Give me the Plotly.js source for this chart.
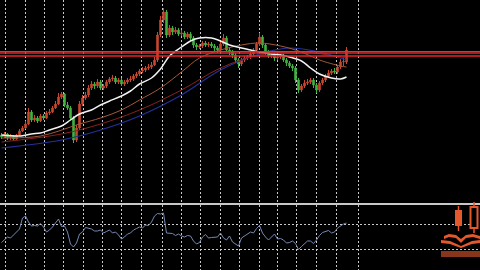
<!DOCTYPE html>
<html>
<head>
<meta charset="utf-8">
<script src="https://cdn.plot.ly/plotly-3.0.1.min.js"></script>
<style>html,body{margin:0;padding:0;background:#000;}#chart{width:480px;height:270px;}</style>
</head>
<body>
<div id="chart"></div>
<script>
// ---- price candles (one per bar) ----
const candleOpen = [65,63,66,62,64,61,65,69,72,76, 88,80,82,79,84,82,87,88,92,96, 103,106,95,92,82,60,72,96,102,105, 112,116,114,118,112,114,118,121,122,118, 120,116,118,120,121,124,126,129,130,132, 133,135,140,165,180,188,165,172,168,170, 166,167,163,166,162,155,153,154,157,155, 156,154,152,150,156,162,150,148,145,140, 136,140,142,143,146,150,156,163,155,148, 144,145,142,143,144,140,137,134,132,120, 110,114,117,118,120,115,110,117,120,124, 127,129,128,133,138,138];
const candleHigh = [67,68,67,66,65,66,71,74,79,92, 90,85,84,86,86,89,91,94,99,107, 108,107,98,94,84,75,99,105,108,115, 119,118,121,120,116,120,123,125,124,122, 122,120,122,124,126,128,131,133,134,136, 138,143,168,184,192,190,175,174,173,172, 170,169,168,168,164,157,156,159,159,158, 158,156,154,158,166,164,152,150,147,142, 142,144,145,148,152,158,167,165,157,150, 147,147,145,146,146,142,139,136,134,122, 116,120,121,122,122,117,119,122,126,130, 131,132,135,141,142,153];
const candleLow = [61,62,60,60,59,60,64,68,71,75, 78,78,77,78,80,81,85,87,91,95, 101,93,90,80,57,58,70,94,100,103, 110,111,112,110,110,112,116,119,116,116, 114,114,116,118,119,122,124,127,128,130, 131,134,138,163,177,162,163,165,166,164, 164,161,161,159,152,150,151,152,153,153, 152,149,147,148,154,148,145,142,137,132, 134,138,140,141,144,148,154,152,145,142, 142,139,140,141,138,134,132,129,117,107, 108,112,115,116,112,107,108,115,118,122, 125,126,126,131,134,136];
const candleClose = [63,66,62,64,61,65,69,72,76,88, 80,82,79,84,82,87,88,92,96,103, 106,95,92,82,60,72,96,102,105,112, 116,114,118,112,114,118,121,122,118,120, 116,118,120,121,124,126,129,130,132,133, 135,140,165,180,188,165,172,168,170,166, 167,163,166,162,155,153,154,157,155,156, 154,152,150,156,162,150,148,145,140,136, 140,142,143,146,150,156,163,155,148,144, 145,142,143,144,140,137,134,132,120,110, 114,117,118,120,115,110,117,120,124,127, 129,128,133,138,138.5,150];

// ---- moving averages (bar index, value) ----
const maWhiteX = [0,6.5,10,13,16,20,23,26,30,33,36,40,43,46,50,53,56,60,63,66,70,73,76,80,83,86,90,93,96,100,103,106,110,113,115];
const maWhiteY = [65,64,66,67,70,74,80,86,90,95,99,104,109,116,122,131,144,153,159,162,162,159,155,152,150,148,146,145,143,139,132,126,122,121,123];
const maBrownX = [0,13,26,33,40,46,53,60,66,73,80,86,93,100,106,113,115];
const maBrownY = [62,64,76,82,90,100,112,128,142,150,155,157,154,148,140,134,133];
const maRedX = [0,20,33,46,60,73,86,100,115];
const maRedY = [58,66,76,90,110,132,145,148,142];
const maBlueX = [0,20,33,46,60,73,86,96,106,115];
const maBlueY = [52,60,70,84,105,130,146,152,148,140];

// ---- horizontal levels ----
const levelGray = 148.5;
const levelsRed = [147, 144];

// ---- oscillator (RSI-like) ----
const oscValues = [40.4,44.4,49.2,47.6,52.4,55.6,62,79.6,82.8,73.2, 66.8,67.6,66.8,70.8,65.2,57.2,60.4,65.2,72.4,78, 66,66.8,57.2,38,33.2,39.6,54,57.2,64.4,63.6, 62,58.8,58.8,60.4,55.6,58,60.4,55.6,57.2,52.4, 46,49.2,54,55.6,60.4,62.8,65.2,63.6,68.4,67.6, 73.2,82.8,86.8,86,87.6,55.6,55.6,54.8,51.6,54, 50.8,49.2,51.6,50.8,42.8,38,40.4,49.2,53.2,47.6, 48.4,49.2,49.2,55.6,47.6,44.4,50.8,41.2,38,34.8, 47.6,50.8,54,57.2,55.6,62.8,67.6,55.6,49.2,44.4, 49.2,54,46,46.8,44.4,39.6,40.4,42.8,38.8,29.2, 34,38,42.8,42.8,38.8,44.4,51.6,56.4,58,59.6, 55.6,57.2,63.6,66.8,70,71.6];
const oscLevels = [30, 70];

// vertical grid (pixel columns of the reference)
const gridPx = [5,25,44,63,83,102,121,141,162,181,200,220,239,259,277,296,316,336,358];

const W = 480, H = 270;
const barIdx = candleClose.map((_, i) => i);
const gridIdx = gridPx.map(p => p / 3 - 0.5);
const px = x => x / W, py = y => 1 - y / H;

const candle = {
  type: 'candlestick', x: barIdx, open: candleOpen, high: candleHigh, low: candleLow, close: candleClose,
  xaxis: 'x', yaxis: 'y',
  increasing: {line: {color: '#c8482f', width: 1}, fillcolor: '#c8482f'},
  decreasing: {line: {color: '#41b341', width: 1}, fillcolor: '#41b341'},
  whiskerwidth: 0, hoverinfo: 'skip'
};
function ma(xs, ys, color, w) {
  return {type: 'scatter', mode: 'lines', x: xs, y: ys, xaxis: 'x', yaxis: 'y',
    line: {color: color, width: w, shape: 'spline', smoothing: 1}, hoverinfo: 'skip'};
}
const osc = {type: 'scatter', mode: 'lines', x: barIdx, y: oscValues, xaxis: 'x2', yaxis: 'y2',
  line: {color: '#7488b4', width: 1}, hoverinfo: 'skip'};

const axX = {range: [-0.5, 159.5], showticklabels: false, zeroline: false, showline: false,
  tickmode: 'array', tickvals: gridIdx, ticks: '', showgrid: true, gridcolor: '#c8c8c8',
  griddash: '2px,2px', gridwidth: 1, rangeslider: {visible: false}, fixedrange: true};

const shapes = [];
shapes.push({type: 'line', xref: 'paper', yref: 'y', x0: 0, x1: 1, y0: levelGray, y1: levelGray, line: {color: '#6b6b50', width: 1}});
levelsRed.forEach(v => shapes.push({type: 'line', xref: 'paper', yref: 'y', x0: 0, x1: 1, y0: v, y1: v, line: {color: '#e8242a', width: 1.6}}));
shapes.push({type: 'line', xref: 'paper', yref: 'paper', x0: 0, x1: 1, y0: py(204), y1: py(204), line: {color: '#c8c8c8', width: 2}});
// logo (decoration)
const orange = '#e4582e';
shapes.push({type: 'line', xref: 'paper', yref: 'paper', x0: px(458.5), x1: px(458.5), y0: py(206), y1: py(231), line: {color: orange, width: 1.5}});
shapes.push({type: 'rect', xref: 'paper', yref: 'paper', x0: px(455), x1: px(462), y0: py(210), y1: py(226), fillcolor: orange, line: {width: 0}});
shapes.push({type: 'line', xref: 'paper', yref: 'paper', x0: px(474), x1: px(474), y0: py(202), y1: py(233), line: {color: orange, width: 1.5}});
shapes.push({type: 'rect', xref: 'paper', yref: 'paper', x0: px(470.5), x1: px(477.5), y0: py(207), y1: py(228), fillcolor: '#000', line: {color: orange, width: 2}});
function P(pts) { return pts.map((p, i) => (i ? 'L' : 'M') + px(p[0]).toFixed(4) + ',' + py(p[1]).toFixed(4)).join(' ') + ' Z'; }
shapes.push({type: 'path', xref: 'paper', yref: 'paper', path: P([[444,236],[449,234],[456,235],[461,239],[466,235],[473,234],[480,236],[480,239],[473,237],[466,238],[461,243],[456,238],[449,237],[444,239]]), fillcolor: orange, line: {width: 0}});
shapes.push({type: 'path', xref: 'paper', yref: 'paper', path: P([[441,240],[450,241],[461,246],[472,241],[480,240],[480,243],[472,244],[461,248],[450,244],[441,243]]), fillcolor: orange, line: {width: 0}});
shapes.push({type: 'rect', xref: 'paper', yref: 'paper', x0: px(441), x1: px(480), y0: py(251), y1: py(257), fillcolor: 'rgba(228,88,46,0.6)', line: {width: 0}});

const layout = {
  width: W, height: H, margin: {l: 0, r: 0, t: 0, b: 0, pad: 0},
  paper_bgcolor: '#000', plot_bgcolor: '#000', showlegend: false,
  xaxis: Object.assign({}, axX, {anchor: 'y'}),
  xaxis2: Object.assign({}, axX, {anchor: 'y2'}),
  yaxis: {domain: [1 - 203 / H, 1], range: [-3, 200], showticklabels: false, showgrid: false, zeroline: false, fixedrange: true},
  yaxis2: {domain: [0, 1 - 205 / H], range: [-3.6, 100.4], showticklabels: false, zeroline: false, fixedrange: true,
    tickmode: 'array', tickvals: oscLevels, showgrid: true, gridcolor: '#c8c8c8', griddash: '2px,2px', gridwidth: 1},
  shapes: shapes
};

Plotly.newPlot('chart', [candle,
  ma(maBlueX, maBlueY, '#23309a', 1.2),
  ma(maRedX, maRedY, '#8a2020', 1),
  ma(maBrownX, maBrownY, '#a4583a', 1),
  ma(maWhiteX, maWhiteY, '#f2f2f2', 1.5),
  osc], layout, {staticPlot: true, displayModeBar: false});
</script>
</body>
</html>
